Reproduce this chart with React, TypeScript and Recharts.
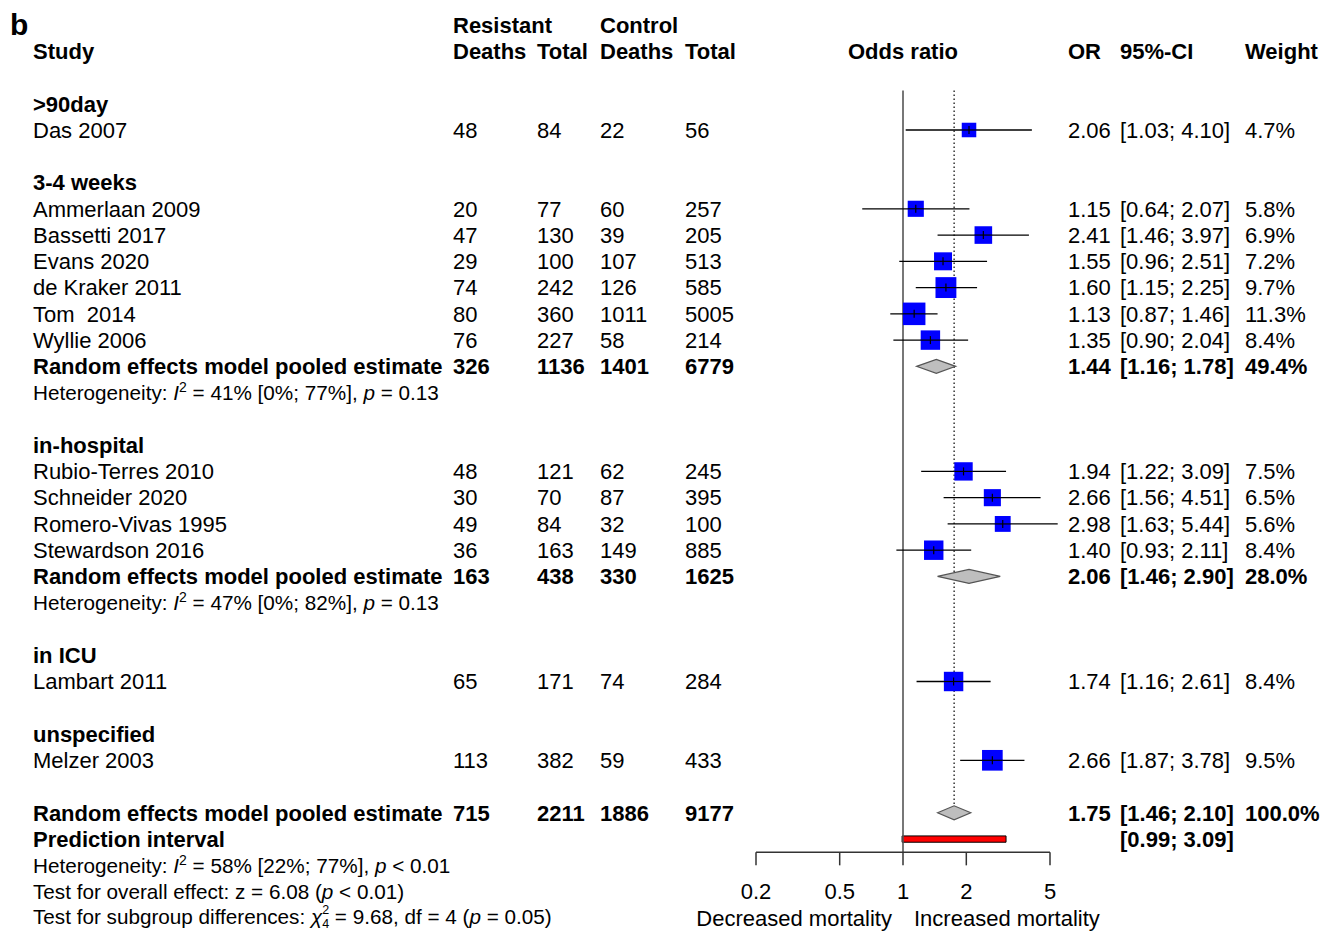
import React from "react";
import { ComposedChart, XAxis, YAxis, Scatter, ReferenceLine, ReferenceArea } from "recharts";

const FONT = '"Liberation Sans", Arial, Helvetica, sans-serif';

// subgroups, in plot order
const groupNames = [">90day", "3-4 weeks", "in-hospital", "in ICU", "unspecified"];

// individual studies
const studyNames = [
  "Das 2007", "Ammerlaan 2009", "Bassetti 2017", "Evans 2020", "de Kraker 2011", "Tom  2014", "Wyllie 2006",
  "Rubio-Terres 2010", "Schneider 2020", "Romero-Vivas 1995", "Stewardson 2016", "Lambart 2011", "Melzer 2003",
];
const studyGroup = [0, 1, 1, 1, 1, 1, 1, 2, 2, 2, 2, 3, 4];
const resDeaths = [48, 20, 47, 29, 74, 80, 76, 48, 30, 49, 36, 65, 113];
const resTotal = [84, 77, 130, 100, 242, 360, 227, 121, 70, 84, 163, 171, 382];
const ctlDeaths = [22, 60, 39, 107, 126, 1011, 58, 62, 87, 32, 149, 74, 59];
const ctlTotal = [56, 257, 205, 513, 585, 5005, 214, 245, 395, 100, 885, 284, 433];
const studyOR = [2.06, 1.15, 2.41, 1.55, 1.6, 1.13, 1.35, 1.94, 2.66, 2.98, 1.4, 1.74, 2.66];
const studyLo = [1.03, 0.64, 1.46, 0.96, 1.15, 0.87, 0.9, 1.22, 1.56, 1.63, 0.93, 1.16, 1.87];
const studyHi = [4.1, 2.07, 3.97, 2.51, 2.25, 1.46, 2.04, 3.09, 4.51, 5.44, 2.11, 2.61, 3.78];
const studyWeight = [4.7, 5.8, 6.9, 7.2, 9.7, 11.3, 8.4, 7.5, 6.5, 5.6, 8.4, 8.4, 9.5];

// pooled estimates (-1 = overall)
const pooledGroup = [1, 2, -1];
const pooledResDeaths = [326, 163, 715];
const pooledResTotal = [1136, 438, 2211];
const pooledCtlDeaths = [1401, 330, 1886];
const pooledCtlTotal = [6779, 1625, 9177];
const pooledOR = [1.44, 2.06, 1.75];
const pooledLo = [1.16, 1.46, 1.46];
const pooledHi = [1.78, 2.9, 2.1];
const pooledWeight = [49.4, 28.0, 100.0];
const hetI2 = [41, 47, 58];
const hetI2Lo = [0, 0, 22];
const hetI2Hi = [77, 82, 77];
const hetP = ["= 0.13", "= 0.13", "< 0.01"];

const predLo = 0.99;
const predHi = 3.09;
const overallZ = "6.08";
const overallP = "< 0.01";
const subgroupChi2 = "9.68";
const subgroupDf = 4;
const subgroupP = "= 0.05";

const axisTicks = [0.2, 0.5, 1, 2, 5];

// column layout (pixels)
const COL = { study: 33, resD: 453, resT: 537, ctlD: 600, ctlT: 685, or: 1068, ci: 1120, wt: 1245 };
const SMALL = 20.7;
const BOX_SCALE = 6.7;
const DIAMOND_H = 7;

const fmtCI = (lo: number, hi: number) => `[${lo.toFixed(2)}; ${hi.toFixed(2)}]`;

// build row layout
type RowSpec = { kind: string; name?: string; i?: number; p?: number };
const rowSpecs: Record<number, RowSpec> = {};
const studyPoints: { x: number; y: number; lo: number; hi: number; w: number }[] = [];
const pooledRows: number[] = [0, 0, 0];

rowSpecs[-1] = { kind: "colgroup" };
rowSpecs[0] = { kind: "header" };
let r = 2;
groupNames.forEach((g, gi) => {
  rowSpecs[r++] = { kind: "group", name: g };
  studyNames.forEach((_, i) => {
    if (studyGroup[i] !== gi) return;
    rowSpecs[r] = { kind: "study", i };
    studyPoints.push({ x: studyOR[i], y: r, lo: studyLo[i], hi: studyHi[i], w: studyWeight[i] });
    r++;
  });
  const p = pooledGroup.indexOf(gi);
  if (p >= 0) {
    rowSpecs[r] = { kind: "pooled", p };
    pooledRows[p] = r;
    r++;
    rowSpecs[r++] = { kind: "het", p };
  }
  r++;
});
const overall = pooledGroup.indexOf(-1);
const overallRow = r;
rowSpecs[r] = { kind: "pooled", p: overall };
pooledRows[overall] = r;
r++;
const predRow = r;
rowSpecs[r++] = { kind: "pred" };
rowSpecs[r++] = { kind: "het", p: overall };
rowSpecs[r++] = { kind: "testOverall" };
rowSpecs[r++] = { kind: "testSubgroup" };

const rowTicks = Object.keys(rowSpecs).map(Number).sort((a, b) => a - b);
const axisRow = predRow + 0.5;
const tickLabelRow = predRow + 2;
const sideLabelRow = predRow + 3;

const diamonds = pooledRows.map((row, p) => [
  { x: pooledLo[p], y: row },
  { x: pooledOR[p], y: row },
  { x: pooledHi[p], y: row },
]);

const axisLabels = axisTicks.map((t) => ({ x: t, y: tickLabelRow, label: String(t), anchor: "middle", dx: 0 }));
const sideLabels = [
  { x: 1, y: sideLabelRow, label: "Decreased mortality", anchor: "end", dx: -11 },
  { x: 1, y: sideLabelRow, label: "Increased mortality", anchor: "start", dx: 11 },
];
const titleLabels = [{ x: 1, y: 0, label: "Odds ratio", anchor: "middle", dx: 0, bold: true }];

function T({ x, y, children, bold = false, size = 22, anchor = "start" }: any) {
  return (
    <text
      x={x}
      y={y}
      dy="0.355em"
      fontFamily={FONT}
      fontSize={size}
      fontWeight={bold ? "bold" : "normal"}
      textAnchor={anchor}
      fill="#000"
      style={{ whiteSpace: "pre" }}
    >
      {children}
    </text>
  );
}

function HetText({ y, p }: { y: number; p: number }) {
  return (
    <text x={COL.study} y={y} dy="0.355em" fontFamily={FONT} fontSize={SMALL} fill="#000" style={{ whiteSpace: "pre" }}>
      {"Heterogeneity: "}
      <tspan fontStyle="italic">I</tspan>
      <tspan dy={-8} fontSize={14}>2</tspan>
      <tspan dy={8}>{` = ${hetI2[p]}% [${hetI2Lo[p]}%; ${hetI2Hi[p]}%], `}</tspan>
      <tspan fontStyle="italic">p</tspan>
      {` ${hetP[p]}`}
    </text>
  );
}

function RowTick(props: any) {
  const row = props.payload.value;
  const y = props.y;
  const spec = rowSpecs[row];
  if (!spec) return <g />;
  switch (spec.kind) {
    case "colgroup":
      return (
        <g>
          <text x={10} y={y} dy={10} fontFamily={FONT} fontSize={30} fontWeight="bold" fill="#000">b</text>
          <T x={COL.resD} y={y} bold>Resistant</T>
          <T x={COL.ctlD} y={y} bold>Control</T>
        </g>
      );
    case "header":
      return (
        <g>
          <T x={COL.study} y={y} bold>Study</T>
          <T x={COL.resD} y={y} bold>Deaths</T>
          <T x={COL.resT} y={y} bold>Total</T>
          <T x={COL.ctlD} y={y} bold>Deaths</T>
          <T x={COL.ctlT} y={y} bold>Total</T>
          <T x={COL.or} y={y} bold>OR</T>
          <T x={COL.ci} y={y} bold>95%-CI</T>
          <T x={COL.wt} y={y} bold>Weight</T>
        </g>
      );
    case "group":
      return <T x={COL.study} y={y} bold>{spec.name}</T>;
    case "study": {
      const i = spec.i as number;
      return (
        <g>
          <T x={COL.study} y={y}>{studyNames[i]}</T>
          <T x={COL.resD} y={y}>{resDeaths[i]}</T>
          <T x={COL.resT} y={y}>{resTotal[i]}</T>
          <T x={COL.ctlD} y={y}>{ctlDeaths[i]}</T>
          <T x={COL.ctlT} y={y}>{ctlTotal[i]}</T>
          <T x={COL.or} y={y}>{studyOR[i].toFixed(2)}</T>
          <T x={COL.ci} y={y}>{fmtCI(studyLo[i], studyHi[i])}</T>
          <T x={COL.wt} y={y}>{`${studyWeight[i].toFixed(1)}%`}</T>
        </g>
      );
    }
    case "pooled": {
      const p = spec.p as number;
      return (
        <g>
          <T x={COL.study} y={y} bold>Random effects model pooled estimate</T>
          <T x={COL.resD} y={y} bold>{pooledResDeaths[p]}</T>
          <T x={COL.resT} y={y} bold>{pooledResTotal[p]}</T>
          <T x={COL.ctlD} y={y} bold>{pooledCtlDeaths[p]}</T>
          <T x={COL.ctlT} y={y} bold>{pooledCtlTotal[p]}</T>
          <T x={COL.or} y={y} bold>{pooledOR[p].toFixed(2)}</T>
          <T x={COL.ci} y={y} bold>{fmtCI(pooledLo[p], pooledHi[p])}</T>
          <T x={COL.wt} y={y} bold>{`${pooledWeight[p].toFixed(1)}%`}</T>
        </g>
      );
    }
    case "het":
      return <HetText y={y} p={spec.p as number} />;
    case "pred":
      return (
        <g>
          <T x={COL.study} y={y} bold>Prediction interval</T>
          <T x={COL.ci} y={y} bold>{fmtCI(predLo, predHi)}</T>
        </g>
      );
    case "testOverall":
      return (
        <text x={COL.study} y={y} dy="0.355em" fontFamily={FONT} fontSize={SMALL} fill="#000" style={{ whiteSpace: "pre" }}>
          {`Test for overall effect: z = ${overallZ} (`}
          <tspan fontStyle="italic">p</tspan>
          {` ${overallP})`}
        </text>
      );
    case "testSubgroup":
      return (
        <text x={COL.study} y={y - 1} dy="0.355em" fontFamily={FONT} fontSize={SMALL} fill="#000" style={{ whiteSpace: "pre" }}>
          {"Test for subgroup differences: "}
          <tspan fontStyle="italic">χ</tspan>
          <tspan dy={-10} fontSize={12.5}>2</tspan>
          <tspan dx={-7} dy={14} fontSize={12.5}>{subgroupDf}</tspan>
          <tspan dy={-4}>{` = ${subgroupChi2}, df = ${subgroupDf} (`}</tspan>
          <tspan fontStyle="italic">p</tspan>
          {` ${subgroupP})`}
        </text>
      );
    default:
      return <g />;
  }
}

function StudyBox(props: any) {
  const { cx, cy, payload } = props;
  const s = BOX_SCALE * Math.sqrt(payload.w);
  return (
    <g>
      <rect x={cx - s / 2} y={cy - s / 2} width={s} height={s} fill="#0000ff" />
      <line x1={cx - s / 2} x2={cx + s / 2} y1={cy} y2={cy} stroke="#000" strokeWidth={1.2} />
      <line x1={cx} x2={cx} y1={cy - 4} y2={cy + 4} stroke="#000" strokeWidth={1.2} />
    </g>
  );
}

function LabelShape(props: any) {
  const { cx, cy, payload } = props;
  return (
    <T x={cx + payload.dx} y={cy} anchor={payload.anchor} bold={!!payload.bold}>
      {payload.label}
    </T>
  );
}

const diamondLine = (props: any) => {
  const [a, m, b] = props.points;
  return (
    <polygon
      points={`${a.x},${a.y} ${m.x},${m.y - DIAMOND_H} ${b.x},${b.y} ${m.x},${m.y + DIAMOND_H}`}
      fill="#bebebe"
      stroke="#555"
      strokeWidth={1.2}
    />
  );
};

const noDot = () => <g />;

export default function App() {
  return (
    <div style={{ position: "absolute", left: 0, top: 0, width: 1320, height: 931, background: "#fff" }}>
      <ComposedChart width={1320} height={931} margin={{ top: 0, right: 270, bottom: 0, left: 696 }}>
        <XAxis xAxisId="or" dataKey="x" type="number" scale="log" domain={[0.2, 5]} hide />
        <YAxis
          yAxisId="row"
          dataKey="y"
          type="number"
          domain={[-1.95, 33.5]}
          reversed
          ticks={rowTicks}
          interval={0}
          width={60}
          axisLine={false}
          tickLine={false}
          tick={(p: any) => <RowTick {...p} />}
        />

        {/* reference lines: no effect and overall estimate */}
        <ReferenceLine xAxisId="or" yAxisId="row" segment={[{ x: 1, y: 1.5 }, { x: 1, y: axisRow }]} stroke="#555" strokeWidth={1.6} ifOverflow="visible" />
        <ReferenceLine
          xAxisId="or"
          yAxisId="row"
          segment={[{ x: pooledOR[overall], y: 1.5 }, { x: pooledOR[overall], y: overallRow - 0.27 }]}
          stroke="#000"
          strokeWidth={1.2}
          strokeDasharray="1.5 2.5"
          ifOverflow="visible"
        />

        {/* confidence intervals */}
        {studyPoints.map((s, k) => (
          <ReferenceLine
            key={`ci-${k}`}
            xAxisId="or"
            yAxisId="row"
            segment={[{ x: s.lo, y: s.y }, { x: s.hi, y: s.y }]}
            stroke="#000"
            strokeWidth={1.3}
            ifOverflow="visible"
          />
        ))}

        <Scatter xAxisId="or" yAxisId="row" data={studyPoints} shape={StudyBox} isAnimationActive={false} />

        {diamonds.map((d, k) => (
          <Scatter key={`dm-${k}`} xAxisId="or" yAxisId="row" data={d} shape={noDot} line={diamondLine} lineType="joint" isAnimationActive={false} />
        ))}

        <ReferenceArea
          xAxisId="or"
          yAxisId="row"
          x1={predLo}
          x2={predHi}
          y1={predRow - 0.12}
          y2={predRow + 0.12}
          fill="#ff0000"
          fillOpacity={1}
          stroke="#000"
          strokeWidth={1}
        />

        {/* x axis drawn at the foot of the plot */}
        <ReferenceLine xAxisId="or" yAxisId="row" segment={[{ x: 0.2, y: axisRow }, { x: 5, y: axisRow }]} stroke="#333" strokeWidth={1.5} ifOverflow="visible" />
        {axisTicks.map((t) => (
          <ReferenceLine
            key={`tk-${t}`}
            xAxisId="or"
            yAxisId="row"
            segment={[{ x: t, y: axisRow }, { x: t, y: axisRow + 0.5 }]}
            stroke="#333"
            strokeWidth={1.5}
            ifOverflow="visible"
          />
        ))}
        <Scatter xAxisId="or" yAxisId="row" data={axisLabels} shape={LabelShape} isAnimationActive={false} />
        <Scatter xAxisId="or" yAxisId="row" data={sideLabels} shape={LabelShape} isAnimationActive={false} />
        <Scatter xAxisId="or" yAxisId="row" data={titleLabels} shape={LabelShape} isAnimationActive={false} />
      </ComposedChart>
    </div>
  );
}
